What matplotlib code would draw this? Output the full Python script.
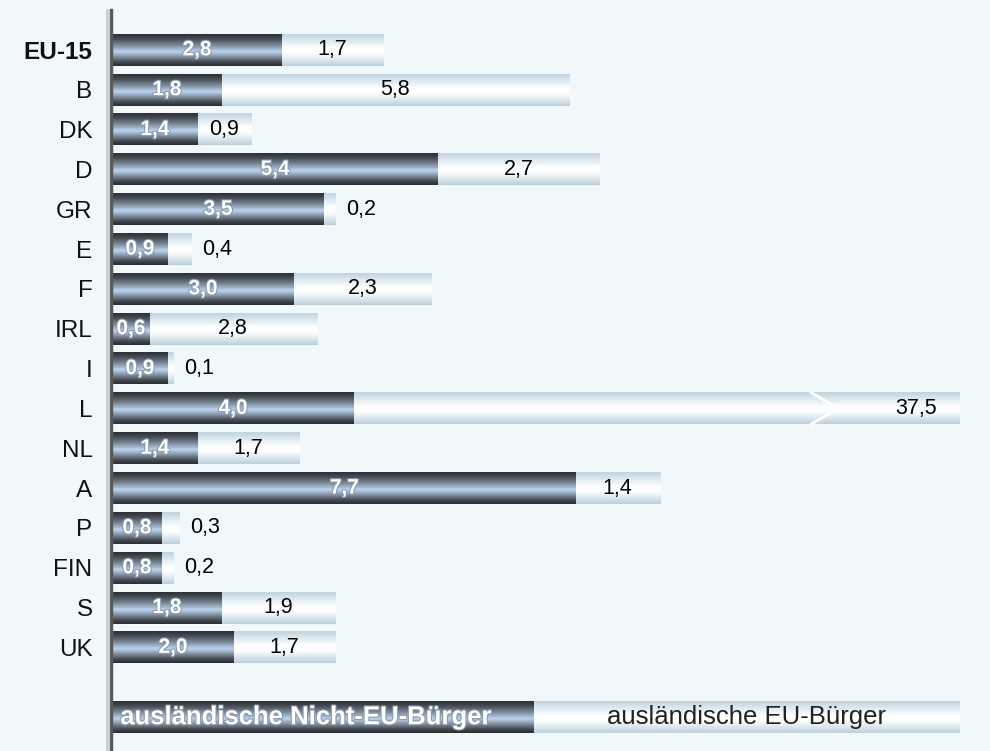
import matplotlib.pyplot as plt
import matplotlib.patheffects as pe
import numpy as np
from matplotlib.colors import LinearSegmentedColormap

plt.rcParams['font.family'] = ['Liberation Sans', 'DejaVu Sans']

countries = ["EU-15", "B", "DK", "D", "GR", "E", "F", "IRL", "I", "L",
             "NL", "A", "P", "FIN", "S", "UK"]
non_eu = [2.8, 1.8, 1.4, 5.4, 3.5, 0.9, 3.0, 0.6, 0.9, 4.0, 1.4, 7.7, 0.8, 0.8, 1.8, 2.0]
eu = [1.7, 5.8, 0.9, 2.7, 0.2, 0.4, 2.3, 2.8, 0.1, 37.5, 1.7, 1.4, 0.3, 0.2, 1.9, 1.7]
legend_labels = ["ausländische Nicht-EU-Bürger", "ausländische EU-Bürger"]

x_cap = 14.1   # axis end, L gets cut off there
legend_split = 7.0
bg = "#f1f8fc"

dark_cmap = LinearSegmentedColormap.from_list("dark", [
    (0.0, "#2c3035"), (0.15, "#474d55"), (0.35, "#7d8b9a"), (0.55, "#bcd6f4"),
    (0.7, "#8896a6"), (0.88, "#454b52"), (1.0, "#2a2d31")])
light_cmap = LinearSegmentedColormap.from_list("light", [
    (0.0, "#c0d3df"), (0.2, "#dce8ef"), (0.45, "#ffffff"), (0.6, "#ffffff"),
    (0.85, "#d6e3eb"), (1.0, "#bccfdb")])
grad = np.linspace(0, 1, 64).reshape(-1, 1)


def grad_bar(ax, x0, x1, y, h, cmap):
    ax.imshow(grad, cmap=cmap, extent=[x0, x1, y + h / 2, y - h / 2],
              aspect="auto", interpolation="bicubic", zorder=2)


def main():
    fig = plt.figure(figsize=(9.9, 7.51), dpi=100, facecolor=bg)
    ax = fig.add_axes([110.6 / 990, 0, (960 - 110.6) / 990, 741 / 751])
    ax.set_facecolor(bg)

    h = 0.8
    white_fx = [pe.withStroke(linewidth=1.5, foreground="#8a9aaa")]
    for i, (a, b) in enumerate(zip(non_eu, eu)):
        total = a + b
        end = min(total, x_cap)
        grad_bar(ax, a, end, i, h, light_cmap)
        grad_bar(ax, 0, a, i, h, dark_cmap)
        ax.text(a / 2, i, f"{a:.1f}".replace(".", ","), color="white",
                fontsize=15, fontweight="bold", ha="center", va="center",
                zorder=4, path_effects=white_fx)
        lab = f"{b:.1f}".replace(".", ",")
        if total > x_cap:
            # break mark
            bx = x_cap - 2.03
            ax.plot([bx - 0.45, bx, bx - 0.45], [i - 0.4, i, i + 0.4],
                    color="white", lw=2, zorder=3)
            ax.text(x_cap - 0.38, i, lab, fontsize=15.5, ha="right",
                    va="center", zorder=4)
        elif b < 0.5:
            ax.text(total + 0.18, i, lab, fontsize=15.5, ha="left",
                    va="center", zorder=4)
        else:
            ax.text(a + b / 2, i, lab, fontsize=15.5, ha="center",
                    va="center", zorder=4)

    # legend row
    ly = len(countries) - 1 + 1.75
    grad_bar(ax, legend_split, x_cap, ly, h, light_cmap)
    grad_bar(ax, 0, legend_split, ly, h, dark_cmap)
    ax.text(0.12, ly, legend_labels[0], color="white", fontsize=18.5,
            fontweight="bold", ha="left", va="center", zorder=4,
            path_effects=white_fx)
    ax.text((legend_split + x_cap) / 2, ly, legend_labels[1], color="#222222",
            fontsize=18.5, ha="center", va="center", zorder=4)

    ax.set_xlim(-0.04, x_cap)
    ax.set_ylim(17.6, -1.0)
    ax.set_yticks(range(len(countries)))
    ax.set_yticklabels(countries, fontsize=17.5, color="#111111")
    ax.get_yticklabels()[0].set_fontweight("bold")
    ax.tick_params(axis="y", length=0, pad=13)
    ax.set_xticks([])
    for s in ["top", "right", "bottom"]:
        ax.spines[s].set_visible(False)
    ax.spines["left"].set_color("#5a5a5a")
    ax.spines["left"].set_linewidth(2.5)
    ax.axvline(-0.1, color="#c8cdd0", lw=2, clip_on=False, zorder=1)

    fig.savefig("out.png", dpi=100, facecolor=bg)


if __name__ == "__main__":
    main()
